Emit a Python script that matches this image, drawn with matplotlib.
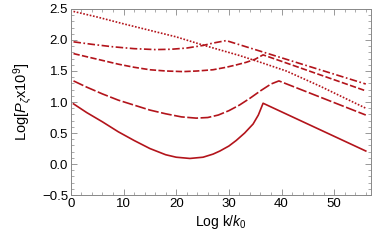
import matplotlib
matplotlib.use("Agg")
import matplotlib.pyplot as plt
from matplotlib.ticker import MultipleLocator

color = "#B3141B"

solid_x = [0.5, 3, 6, 9, 12, 15, 18, 20, 22.6, 25.1, 27, 28.3, 30, 31.4, 33, 34.6, 35.6, 36.5, 56]
solid_y = [0.97, 0.83, 0.68, 0.52, 0.38, 0.25, 0.15, 0.11, 0.09, 0.11, 0.16, 0.21, 0.29, 0.38, 0.50, 0.645, 0.79, 0.98, 0.21]

longdash_x = [0.5, 3, 6, 9, 12, 15, 18, 21, 23.8, 26, 28, 30, 32, 34, 36, 38, 39.5, 56]
longdash_y = [1.34, 1.24, 1.13, 1.03, 0.95, 0.87, 0.81, 0.76, 0.74, 0.75, 0.79, 0.86, 0.95, 1.06, 1.18, 1.29, 1.34, 0.79]

dashed_x = [0.5, 3, 6, 9, 12, 15, 18, 21.3, 24, 27, 29.5, 31.5, 33.3, 35, 36.5, 56]
dashed_y = [1.78, 1.73, 1.67, 1.61, 1.56, 1.52, 1.50, 1.49, 1.50, 1.52, 1.56, 1.60, 1.64, 1.69, 1.76, 1.18]

dashdot_x = [0.5, 4, 8, 12, 16, 19, 22, 25, 27, 29.5, 56]
dashdot_y = [1.97, 1.93, 1.89, 1.86, 1.845, 1.85, 1.87, 1.91, 1.95, 1.99, 1.29]

dotted_x = [0.5, 5, 10, 15, 20, 25, 28.3, 32, 36, 40.9, 47.2, 56]
dotted_y = [2.46, 2.37, 2.26, 2.155, 2.05, 1.92, 1.84, 1.75, 1.64, 1.50, 1.26, 0.90]

xticks = [0, 10, 20, 30, 40, 50]
yticks = [-0.5, 0.0, 0.5, 1.0, 1.5, 2.0, 2.5]
ytick_labels = ["\u22120.5", "0.0", "0.5", "1.0", "1.5", "2.0", "2.5"]

plt.rcParams['font.family'] = ['Liberation Sans', 'DejaVu Sans']
plt.rcParams['mathtext.fontset'] = 'custom'
plt.rcParams['mathtext.it'] = 'Liberation Sans:italic'
plt.rcParams['mathtext.rm'] = 'Liberation Sans'

fig = plt.figure(figsize=(3.79, 2.42), dpi=100)
ax = fig.add_axes([0.187, 0.194, 0.792, 0.769])

lw = 1.2
ax.plot(solid_x, solid_y, color=color, lw=lw)
ax.plot(longdash_x, longdash_y, color=color, lw=lw, dashes=(6.5, 1.5))
ax.plot(dashed_x, dashed_y, color=color, lw=lw, dashes=(3.8, 1.4))
ax.plot(dashdot_x, dashdot_y, color=color, lw=lw, dashes=(4.5, 1.5, 1, 1.5))
ax.plot(dotted_x, dotted_y, color=color, lw=lw, dashes=(1, 1))

ax.set_xlim(0, 57)
ax.set_ylim(-0.5, 2.5)
ax.set_xticks(xticks)
ax.set_yticks(yticks)
ax.set_yticklabels(ytick_labels)
ax.xaxis.set_minor_locator(MultipleLocator(2))
ax.yaxis.set_minor_locator(MultipleLocator(0.1))
ax.tick_params(which='both', direction='in', top=True, right=True, color='#888888', labelsize=9.5, pad=2)
ax.tick_params(which='major', length=4, width=0.6)
ax.tick_params(which='minor', length=2, width=0.5)
for s in ax.spines.values():
    s.set_color('#888888')
    s.set_linewidth(0.7)

ax.set_xlabel(r"Log k/$k_0$", fontsize=10, labelpad=2)
ax.set_ylabel(r"Log[$P_\zeta$x10$^9$]", fontsize=10.5, labelpad=5)

fig.savefig("out.png", dpi=100)
